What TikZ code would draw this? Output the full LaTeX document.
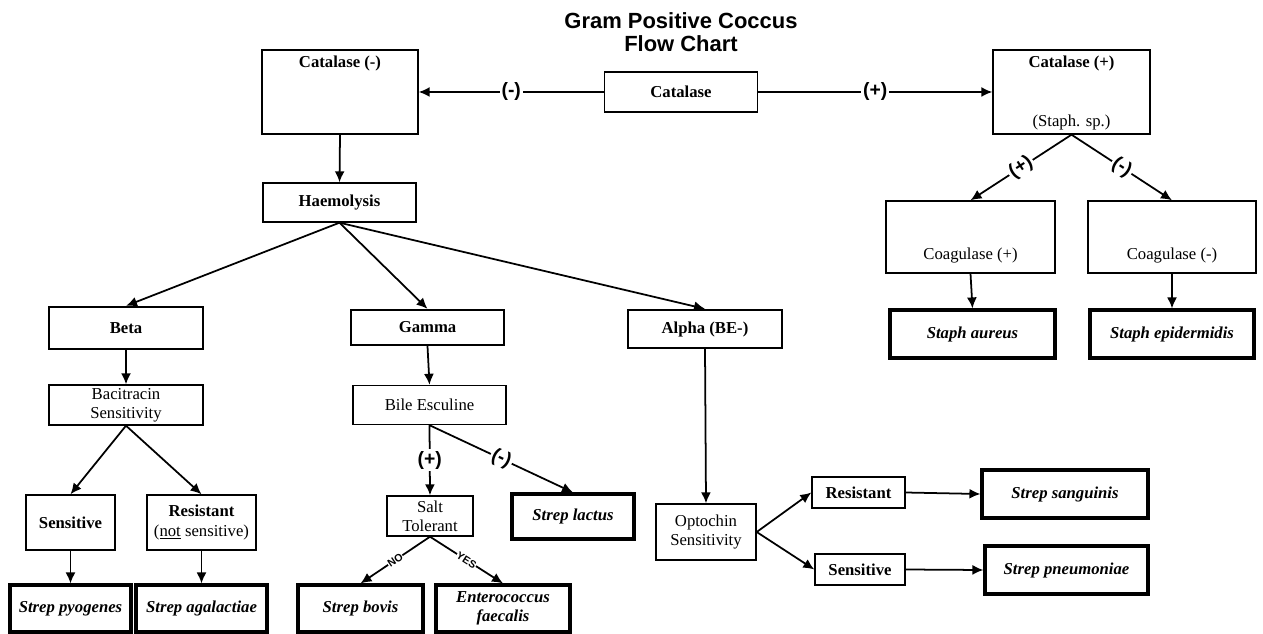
\documentclass[tikz,border=0pt]{standalone}
\usepackage{fontspec}
\setmainfont{Liberation Serif}
\newfontfamily\headfont{Liberation Sans}
\usepackage{tikz}
\usetikzlibrary{arrows.meta,positioning}

\newcommand{\boxfont}{\fontsize{9.5}{11}\selectfont}

\begin{document}
\begin{tikzpicture}[
    x=0.02cm, y=-0.02cm,
    box/.style={rectangle, draw, line width=0.8pt, text centered, align=center, inner sep=1pt, font=\boxfont},
    bbox/.style={box, font=\boxfont\bfseries},
    hbox/.style={box, line width=1.3pt, font=\boxfont\bfseries},
    sbox/.style={box, line width=1.8pt, font=\boxfont\bfseries\itshape},
    txt/.style={inner sep=0pt, font=\boxfont},
    edge/.style={-{Latex[length=2.2mm,width=2mm]}, line width=1pt},
    tag/.style={fill=white, inner sep=1pt, font=\headfont\bfseries\fontsize{11}{12}\selectfont},
    yn/.style={fill=white, inner sep=0.3pt, font=\headfont\bfseries\fontsize{6}{6}\selectfont}
]
    \useasboundingbox (0,0) rectangle (1263,634);

    % title
    \node[align=center, font=\headfont\bfseries\fontsize{12.5}{13}\selectfont] (title) at (681,32) {Gram Positive Coccus\\Flow Chart};

    % catalase
    \node[bbox, minimum width=3.06cm, minimum height=0.8cm] (cat) at (681,92) {Catalase};
    \node[box, minimum width=3.12cm, minimum height=1.68cm] (catneg) at (340,92) {};
    \node[txt, font=\boxfont\bfseries] (catnegtxt) at (340,63) {Catalase (-)};
    \node[box, minimum width=3.14cm, minimum height=1.68cm] (catpos) at (1071.5,92) {};
    \node[txt, font=\boxfont\bfseries] (catpostxt) at (1071.5,63) {Catalase (+)};
    \node[txt] (staph) at (1071.5,122) {(Staph. sp.)};

    % staph side
    \node[box, minimum width=3.38cm, minimum height=1.44cm] (coagpos) at (970.5,237) {};
    \node[txt] (coagpostxt) at (970.5,256) {Coagulase (+)};
    \node[box, minimum width=3.36cm, minimum height=1.44cm] (coagneg) at (1172,237) {};
    \node[txt] (coagnegtxt) at (1172,256) {Coagulase (-)};
    \node[sbox, minimum width=3.3cm, minimum height=0.96cm] (aureus) at (972.5,334) {Staph aureus};
    \node[sbox, minimum width=3.28cm, minimum height=0.96cm] (epid) at (1172,334) {Staph epidermidis};

    % haemolysis
    \node[bbox, minimum width=3.06cm, minimum height=0.78cm] (haem) at (339.5,202.5) {Haemolysis};
    \node[hbox, minimum width=3.08cm, minimum height=0.84cm] (beta) at (126,328) {Beta};
    \node[hbox, minimum width=3.06cm, minimum height=0.7cm] (gamma) at (427.5,327.5) {Gamma};
    \node[hbox, minimum width=3.08cm, minimum height=0.76cm] (alpha) at (705,329) {Alpha (BE-)};

    % beta branch
    \node[box, minimum width=3.08cm, minimum height=0.8cm] (bacit) at (126,405) {Bacitracin\\Sensitivity};
    \node[bbox, minimum width=1.78cm, minimum height=1.1cm] (sens) at (70.5,522.5) {Sensitive};
    \node[box, minimum width=2.18cm, minimum height=1.1cm] (resis) at (201.5,522.5) {\textbf{Resistant}\\(\underline{not} sensitive)};
    \node[sbox, minimum width=2.42cm, minimum height=0.94cm] (pyog) at (70.5,608.5) {Strep pyogenes};
    \node[sbox, minimum width=2.62cm, minimum height=0.94cm] (agal) at (201.5,608.5) {Strep agalactiae};

    % gamma branch
    \node[box, minimum width=3.06cm, minimum height=0.78cm] (bile) at (429.5,405) {Bile Esculine};
    \node[box, minimum width=1.72cm, minimum height=0.8cm] (salt) at (430,516) {Salt\\Tolerant};
    \node[sbox, minimum width=2.44cm, minimum height=0.9cm] (lactus) at (573,516.5) {Strep lactus};
    \node[sbox, minimum width=2.5cm, minimum height=0.94cm] (bovis) at (360.5,608.5) {Strep bovis};
    \node[sbox, minimum width=2.68cm, minimum height=0.94cm] (entero) at (503,608.5) {Enterococcus\\faecalis};

    % alpha branch
    \node[box, minimum width=2cm, minimum height=1.12cm] (opto) at (706,532) {Optochin\\Sensitivity};
    \node[bbox, minimum width=1.86cm, minimum height=0.62cm] (resist2) at (858.5,492.5) {Resistant};
    \node[bbox, minimum width=1.8cm, minimum height=0.62cm] (sens2) at (860,569.5) {Sensitive};
    \node[sbox, minimum width=3.32cm, minimum height=0.96cm] (sang) at (1065,494) {Strep sanguinis};
    \node[sbox, minimum width=3.26cm, minimum height=0.96cm] (pneu) at (1066.5,570) {Strep pneumoniae};

    % connectors
    \draw[edge] (cat.west) -- node[tag] {(-)} (catneg.east);
    \draw[edge] (cat.east) -- node[tag] {(+)} (catpos.west);
    \draw[edge] (catneg.south) -- (haem.north);
    \draw[edge] (catpos.south) -- node[tag, sloped] {(+)} (coagpos.north);
    \draw[edge] (catpos.south) -- node[tag, sloped] {(-)} (coagneg.north);
    \draw[edge] (coagpos.south) -- (aureus.north);
    \draw[edge] (coagneg.south) -- (epid.north);

    \draw[edge] (haem.south) -- (beta.north);
    \draw[edge] (haem.south) -- (gamma.north);
    \draw[edge] (haem.south) -- (alpha.north);

    \draw[edge] (beta.south) -- (bacit.north);
    \draw[edge] (bacit.south) -- (sens.north);
    \draw[edge] (bacit.south) -- (resis.north);
    \draw[edge] (sens.south) -- (pyog.north);
    \draw[edge] (resis.south) -- (agal.north);

    \draw[edge] (gamma.south) -- (bile.north);
    \draw[edge] (bile.south) -- node[tag] {(+)} (salt.north);
    \draw[edge] (bile.south) -- node[tag, sloped] {(-)} (lactus.north);
    \draw[edge] (salt.south) -- node[yn, sloped] {NO} (bovis.north);
    \draw[edge] (salt.south) -- node[yn, sloped] {YES} (entero.north);

    \draw[edge] (alpha.south) -- (opto.north);
    \draw[edge] (opto.east) -- (resist2.west);
    \draw[edge] (opto.east) -- (sens2.west);
    \draw[edge] (resist2.east) -- (sang.west);
    \draw[edge] (sens2.east) -- (pneu.west);
\end{tikzpicture}
\end{document}
